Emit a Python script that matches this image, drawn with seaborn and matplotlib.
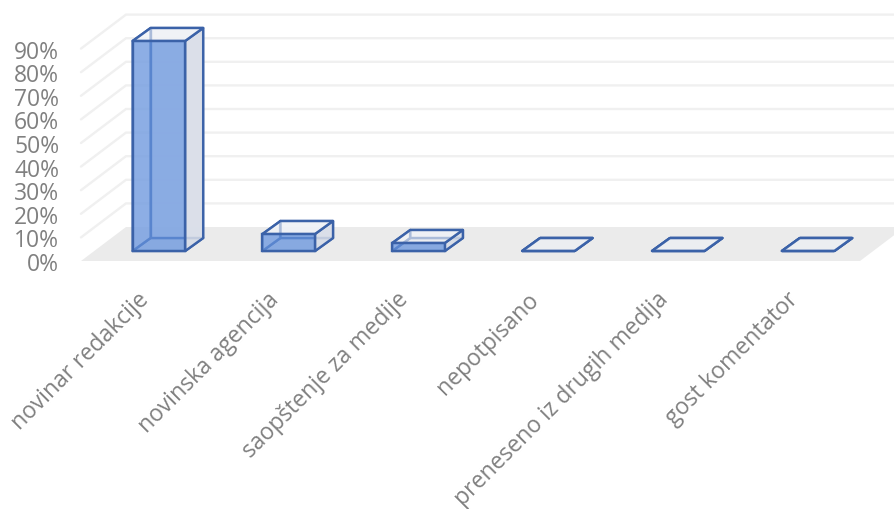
import matplotlib
matplotlib.use("Agg")
import matplotlib.pyplot as plt
import matplotlib.transforms as mtrans
import seaborn as sns

categories = ["novinar redakcije", "novinska agencija", "saopštenje za medije",
              "nepotpisano", "preneseno iz drugih medija", "gost komentator"]
values = [89, 7.2, 3.4, 0, 0, 0]
ticks = [0, 10, 20, 30, 40, 50, 60, 70, 80, 90]

edge = "#3B62A8"
grid = "#F0F0F0"
text_col = "#808080"

sns.set_theme(style="white")
plt.rcParams["font.family"] = ["Open Sans", "DejaVu Sans"]

W, H = 894, 509
fig = plt.figure(figsize=(W / 100, H / 100), dpi=100)
# axes = plane the bars stand on, everything else is shifted from it in pixels
ax = fig.add_axes([94 / W, (H - 251) / H, 779 / W, 212.4 / H])

bar_w = 0.405
sns.barplot(x=categories, y=values, color="#8FAEE3", saturation=1, width=bar_w,
            edgecolor=edge, linewidth=1.7, ax=ax, zorder=6)
ax.set_xlim(-0.5, 5.5)
ax.set_ylim(0, 90)
for p in ax.patches:
    p.set_facecolor((0.40, 0.58, 0.87, 0.72))
    p.set_clip_on(False)
    p.set_zorder(6)


def shift(dx, dy):
    # offset in pixels, dy positive = up
    return ax.transData + mtrans.Affine2D().translate(dx, dy)


front = shift(-13, -10)
back = shift(32, 24)
bar_back = shift(18, 13)
xl, xr = ax.get_xlim()
px = mtrans.IdentityTransform()

# floor, wall and gridlines
p_fl = [front.transform((xl, 0)), front.transform((xr, 0)),
        back.transform((xr, 0)), back.transform((xl, 0))]
ax.add_patch(plt.Polygon(p_fl, closed=True, transform=px, fc="#EBEBEB", ec="none",
                         clip_on=False, zorder=0.5))
for t in ticks[1:]:
    a = front.transform((xl, t))
    b = back.transform((xl, t))
    c = back.transform((xr, t))
    ax.plot([a[0], b[0], c[0]], [a[1], b[1], c[1]], transform=px,
            color=grid, lw=1.7, clip_on=False, zorder=1, solid_joinstyle="miter")

# the 3d box of every bar
for i, v in enumerate(values):
    x0, x1 = i - bar_w / 2, i + bar_w / 2
    pts = {}
    for name, tr in (("f", ax.transData), ("b", bar_back)):
        pts[name + "l0"] = tr.transform((x0, 0))
        pts[name + "r0"] = tr.transform((x1, 0))
        pts[name + "l1"] = tr.transform((x0, v))
        pts[name + "r1"] = tr.transform((x1, v))
    faces = [
        (["fl0", "fr0", "br0", "bl0"], "#DFE1E6", 2),
        (["bl0", "br0", "br1", "bl1"], (0.90, 0.91, 0.94, 0.85), 3),
        (["fl0", "bl0", "bl1", "fl1"], (0.90, 0.91, 0.94, 0.5), 3),
        (["fr0", "br0", "br1", "fr1"], (0.85, 0.87, 0.91, 0.85), 4),
        (["fl1", "fr1", "br1", "bl1"], (0.96, 0.97, 0.98, 0.6), 5),
    ]
    for names, col, z in faces:
        xy = [pts[n] for n in names]
        ax.add_patch(plt.Polygon(xy, closed=True, transform=px,
                                 fc=col, ec=edge, lw=1.7, clip_on=False, zorder=z,
                                 joinstyle="round"))

ax.set_yticks(ticks)
ax.set_yticklabels([f"{t}%" for t in ticks])
ax.tick_params(axis="y", length=0, pad=25, labelsize=16.5, labelcolor=text_col)
ax.tick_params(axis="x", length=0, pad=0, labelsize=16.5, labelcolor=text_col)
ax.set_xticks(range(len(categories)))
ax.set_xticklabels(categories, rotation=45, ha="right", va="top", rotation_mode="anchor")
for lab in ax.get_yticklabels():
    lab.set_transform(lab.get_transform() + mtrans.Affine2D().translate(0, -11))
for lab in ax.get_xticklabels():
    lab.set_transform(lab.get_transform() + mtrans.Affine2D().translate(-22, -37))
ax.set_xlabel("")
ax.set_ylabel("")
sns.despine(ax=ax, left=True, bottom=True)
ax.patch.set_alpha(0)

fig.savefig("out.png", dpi=100, facecolor="white")
